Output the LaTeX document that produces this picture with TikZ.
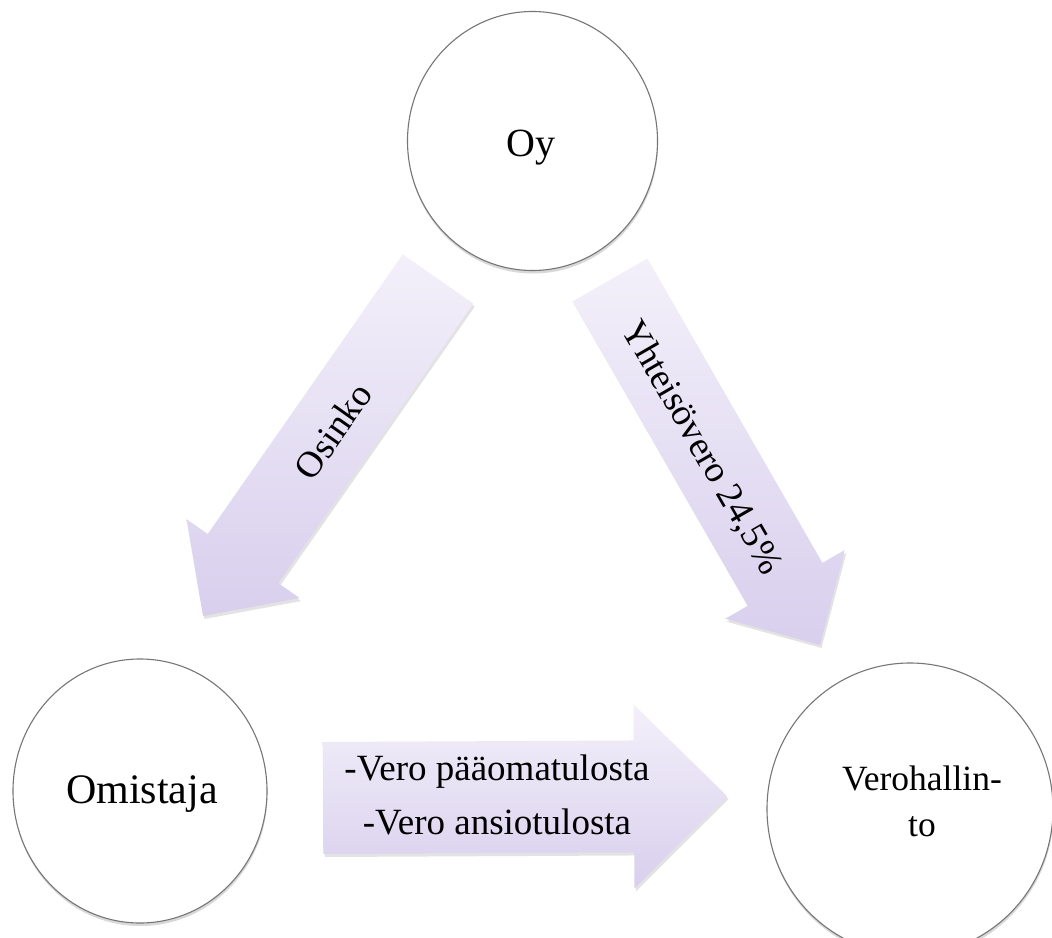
\documentclass[tikz,border=0pt]{standalone}
\usepackage{fontspec}
\setmainfont{Liberation Serif}
\usetikzlibrary{calc,shapes.geometric,shadows}
\definecolor{arrowlight}{HTML}{F3F0FA}
\definecolor{arrowdark}{HTML}{D8CFED}
\definecolor{ringgray}{HTML}{767676}
\tikzset{
  entity/.style={ellipse, draw=ringgray, line width=1.1pt, fill=white, inner sep=0pt,
    drop shadow={shadow xshift=0.5pt, shadow yshift=-3pt, opacity=0.3}},
  blockarrow/.style={top color=arrowlight, bottom color=arrowdark, draw=none,
    drop shadow={shadow xshift=1.5pt, shadow yshift=-3pt, opacity=0.22}},
  arrowtext/.style={font=\fontsize{37}{54}\selectfont, align=center, inner sep=0pt},
  nametext/.style={inner sep=0pt, align=center}
}
\begin{document}
\begin{tikzpicture}[x=1pt,y=-1pt]
\useasboundingbox (0,0) rectangle (1052,937);
\fill[white] (0,0) rectangle (1052,937);

% circles
\node[entity, minimum width=250pt, minimum height=259pt] (oy) at (532.5,141) {};
\node[entity, minimum width=254pt, minimum height=264pt] (omistaja) at (140,791) {};
\node[entity, minimum width=286pt, minimum height=292pt] (vero) at (910,809) {};

\node[nametext, anchor=base, font=\fontsize{40}{48}\selectfont] (oyt) at (531,156) {Oy};
\node[nametext, anchor=base, font=\fontsize{42}{50}\selectfont] (omt) at (142,803) {Omistaja};
\node[nametext, font=\fontsize{35.5}{46}\selectfont] (verot) at (922,801) {Verohallin-\\to};

% arrow Oy -> Omistaja
\coordinate (osT) at (438,279);
\coordinate (osP) at (203,616);
\coordinate (osB) at ($(osP)!70pt!(osT)$);
\path[blockarrow] ($(osT)!43pt!90:(osP)$) -- ($(osB)!43pt!-90:(osT)$) -- ($(osB)!69pt!-90:(osT)$)
  -- (osP) -- ($(osB)!69pt!90:(osT)$) -- ($(osB)!43pt!90:(osT)$) -- ($(osT)!43pt!-90:(osP)$) -- cycle;

% arrow Oy -> Verohallinto
\coordinate (yhT) at (610,280);
\coordinate (yhP) at (820,645);
\coordinate (yhB) at ($(yhP)!70pt!(yhT)$);
\path[blockarrow] ($(yhT)!43pt!90:(yhP)$) -- ($(yhB)!43pt!-90:(yhT)$) -- ($(yhB)!69pt!-90:(yhT)$)
  -- (yhP) -- ($(yhB)!69pt!90:(yhT)$) -- ($(yhB)!43pt!90:(yhT)$) -- ($(yhT)!43pt!-90:(yhP)$) -- cycle;

% arrow Omistaja -> Verohallinto
\coordinate (hzT) at (323,798);
\coordinate (hzP) at (727,796);
\coordinate (hzB) at ($(hzP)!93pt!(hzT)$);
\path[blockarrow] ($(hzT)!56pt!90:(hzP)$) -- ($(hzB)!56pt!-90:(hzT)$) -- ($(hzB)!92pt!-90:(hzT)$)
  -- (hzP) -- ($(hzB)!92pt!90:(hzT)$) -- ($(hzB)!56pt!90:(hzT)$) -- ($(hzT)!56pt!-90:(hzP)$) -- cycle;

\node[arrowtext, rotate=55] (osinko) at (333,431) {Osinko};
\node[arrowtext, rotate=-60] (yhteis) at (701,448) {Yhteisövero 24,5\%};
\node[arrowtext] (verolines) at (497,794.5) {-Vero pääomatulosta\\-Vero ansiotulosta};
\end{tikzpicture}
\end{document}
